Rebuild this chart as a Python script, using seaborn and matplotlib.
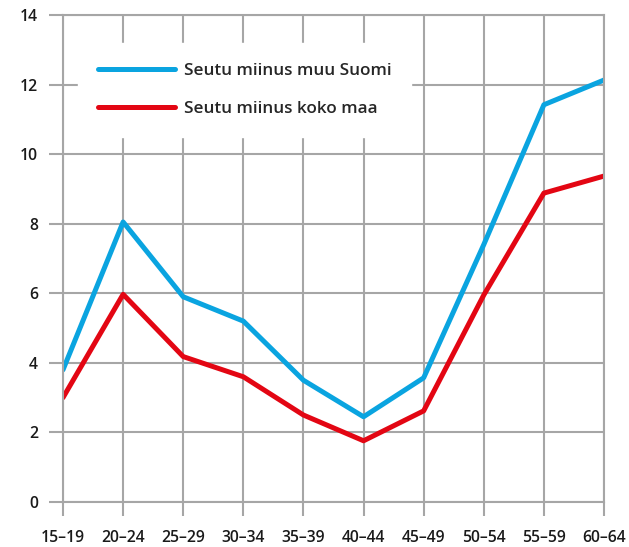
import pandas as pd
import seaborn as sns
import matplotlib.pyplot as plt

# Age groups and the two series
age_groups = ["15–19", "20–24", "25–29", "30–34", "35–39",
              "40–44", "45–49", "50–54", "55–59", "60–64"]
muu_suomi = [3.8, 8.05, 5.9, 5.2, 3.5, 2.45, 3.57, 7.4, 11.42, 12.13]
koko_maa = [3.0, 5.97, 4.18, 3.6, 2.5, 1.76, 2.62, 5.95, 8.88, 9.37]

series_names = ["Seutu miinus muu Suomi", "Seutu miinus koko maa"]
colors = {"Seutu miinus muu Suomi": "#0aa4e0", "Seutu miinus koko maa": "#e30613"}

df = pd.DataFrame({
    "ika": age_groups * 2,
    "arvo": muu_suomi + koko_maa,
    "sarja": [series_names[0]] * len(age_groups) + [series_names[1]] * len(age_groups),
})

sns.set_theme(style="white")
plt.rcParams["font.family"] = ["Open Sans", "DejaVu Sans"]
plt.rcParams["font.weight"] = "semibold"

grid_col = "#a6a6a6"

fig = plt.figure(figsize=(6.29, 5.47), dpi=100)
ax = fig.add_axes([63 / 629, 45 / 547, 541 / 629, 487 / 547])

sns.lineplot(data=df, x="ika", y="arvo", hue="sarja", palette=colors,
             linewidth=3.6, ax=ax, sort=False)

ax.set_xlim(0, len(age_groups) - 1)
ax.set_ylim(0, 14)
ax.set_yticks(range(0, 15, 2))
ax.set_xlabel("")
ax.set_ylabel("")

ax.grid(True, color=grid_col, linewidth=1.5)
ax.set_axisbelow(True)
for s in ax.spines.values():
    s.set_color(grid_col)
    s.set_linewidth(1.5)

ax.tick_params(axis="both", direction="out", length=10, width=1.5,
               color=grid_col, labelsize=11.3, labelcolor="#1a1a1a",
               bottom=True, left=True)
ax.tick_params(axis="y", pad=8)
ax.tick_params(axis="x", pad=10)

leg = ax.legend(loc="upper left", bbox_to_anchor=(0.028, 0.9425),
                frameon=True, fancybox=False, facecolor="white",
                edgecolor="white", framealpha=1, fontsize=12.3,
                handlelength=4.5, handletextpad=0.55, borderpad=1.15,
                labelspacing=1.3, borderaxespad=0)
for line in leg.get_lines():
    line.set_linewidth(3.6)

fig.savefig("out.png", dpi=100)
